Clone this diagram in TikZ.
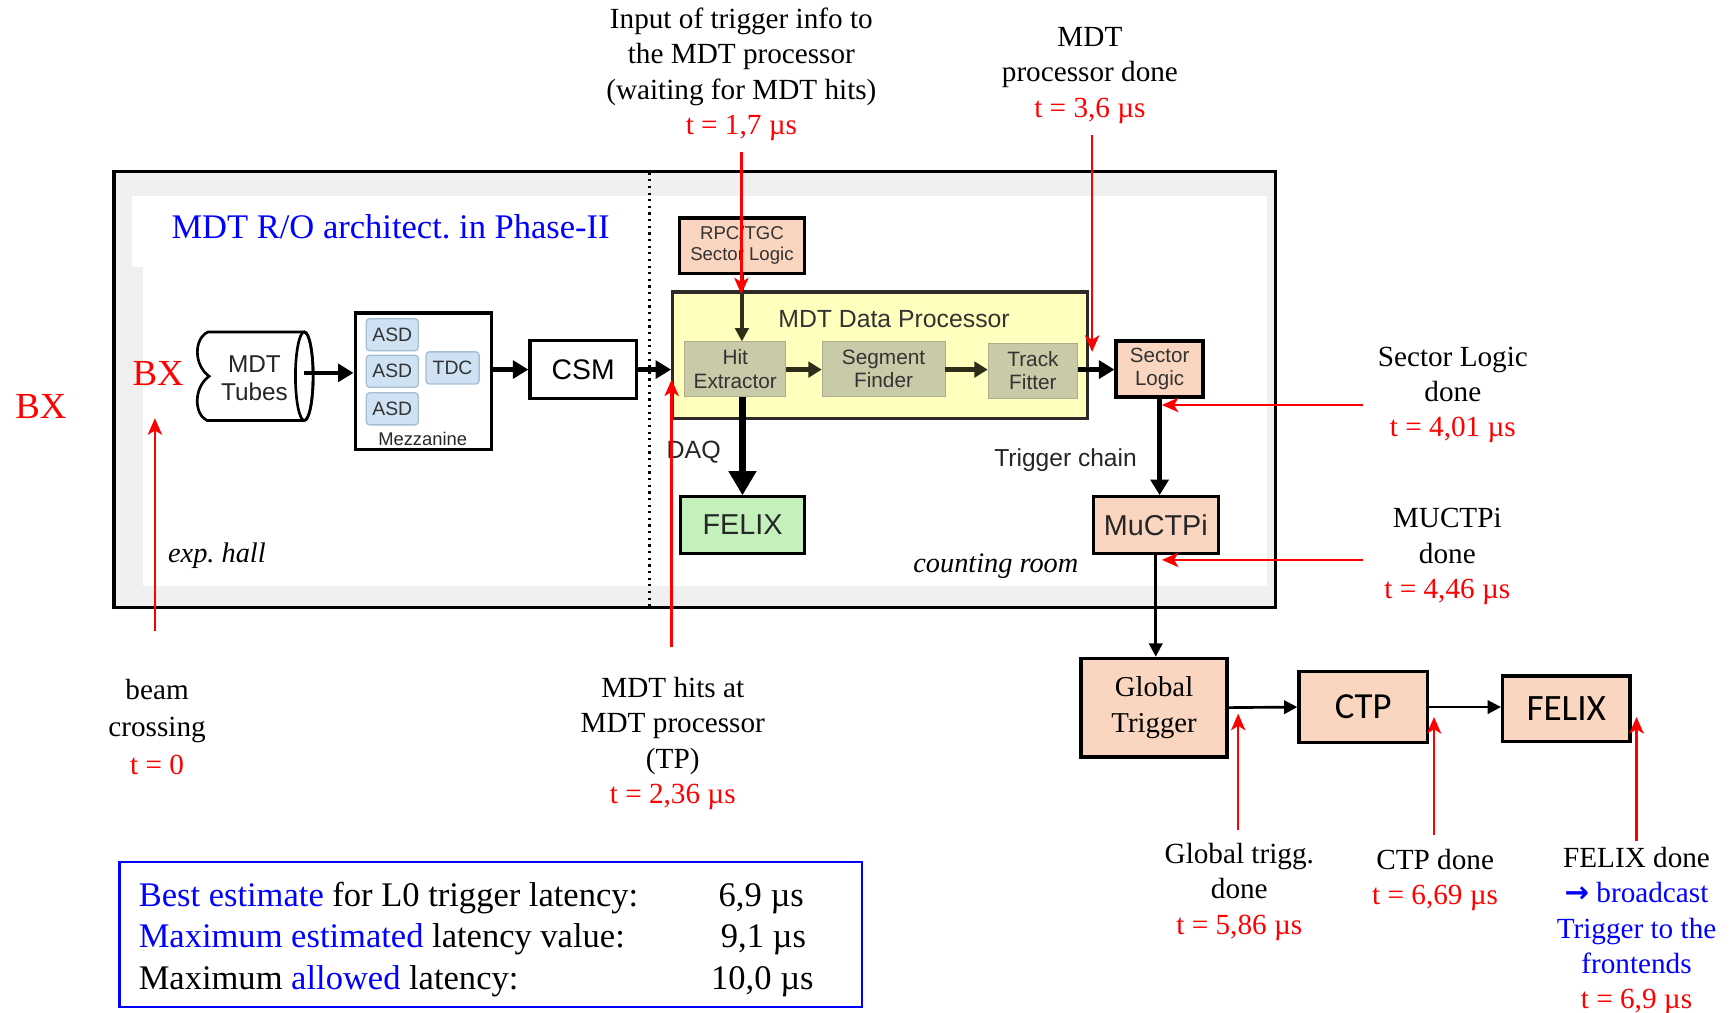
\documentclass[tikz,border=0pt]{standalone}
\usepackage{fontspec}
\setmainfont{Liberation Serif}
\setsansfont{Liberation Sans}
\newfontfamily\calibrifont{Carlito}
\newfontfamily\arrowfont{DejaVu Sans}
\usetikzlibrary{arrows.meta}
\frenchspacing

\definecolor{salmon}{RGB}{250,214,192}
\definecolor{procyellow}{RGB}{255,255,190}
\definecolor{stagegray}{RGB}{201,202,168}
\definecolor{felixgreen}{RGB}{196,240,188}
\definecolor{asdblue}{RGB}{207,226,243}
\definecolor{asdedge}{RGB}{165,190,210}
\definecolor{hallgray}{RGB}{240,240,240}
\definecolor{darkolive}{RGB}{45,45,25}

\newcommand\fs[2]{\fontsize{#1}{#2}\selectfont}

\tikzset{
  blockbox/.style={draw, line width=1.5pt, inner sep=0pt, align=center},
  salmonbox/.style={blockbox, fill=salmon},
  chipbox/.style={draw=asdedge, fill=asdblue, rounded corners=1.5pt, line width=0.6pt,
    inner sep=0pt, minimum width=23.5pt, minimum height=14.5pt,
    font=\sffamily\fs{8.75}{10}, text=black!80},
  stagebox/.style={fill=stagegray, draw=stagegray!85!black, line width=0.4pt, inner sep=0pt,
    align=center, font=\sffamily\fs{9.4}{10.5}, text=black!80},
  note/.style={font=\fs{13.2}{16}, align=center},
  redarrow/.style={red, line width=1.1pt, -{Stealth[length=7.5pt,width=6.5pt,inset=2pt]}},
  thickarrow/.style={line width=2pt, -{Triangle[length=7pt,width=8pt]}},
  stagearrow/.style={darkolive, line width=2pt, -{Triangle[length=6pt,width=7pt]}},
  thinarrow/.style={line width=1.2pt, -{Triangle[length=6pt,width=6pt]}},
}

\begin{document}
\begin{tikzpicture}[x=0.5pt,y=-0.5pt]
\useasboundingbox (0,0) rectangle (1568,915);

% experimental hall / counting room frame
\node[draw, line width=1.5pt, fill=hallgray, minimum width=525pt, minimum height=197pt, inner sep=0pt] (arch) at (628,352) {};
\fill[white] (129,177) rectangle (1145,530);
\fill[white] (119,177) rectangle (129,241);
\draw[dotted, line width=1pt] (587,156) -- (587,548);

\node[font=\fs{15.6}{18}, text=blue] (title) at (353,205) {MDT R/O architect. in Phase-II};

% MDT tubes
\draw[line width=1.2pt, fill=white] (188,300) -- (275,300)
  arc[start angle=90, end angle=-90, x radius=4pt, y radius=20pt] -- (187,380)
  .. controls (175,374) and (175,350) .. (189,340)
  .. controls (175,330) and (175,306) .. (188,300) -- cycle;
\draw[line width=1.2pt] (275,340) ellipse [x radius=4pt, y radius=20pt];
\node[font=\sffamily\fs{11}{12.5}, align=center, text=black!85] (tubes) at (230,342) {MDT\\Tubes};
\coordinate (tubeout) at (275,337);

% mezzanine card
\node[blockbox, fill=white, minimum width=61.5pt, minimum height=61.5pt] (mezz) at (382.5,344.5) {};
\node[chipbox] (asdA) at (354.5,302.5) {ASD};
\node[chipbox] (asdB) at (354.5,335.5) {ASD};
\node[chipbox] (asdC) at (354.5,369.5) {ASD};
\node[chipbox, minimum width=24pt] (tdc) at (409,332.5) {TDC};
\node[font=\sffamily\fs{8.3}{9}, text=black!85] (mezzlabel) at (382,397) {Mezzanine};

% CSM
\node[blockbox, fill=white, minimum width=48pt, minimum height=26pt, font=\sffamily\fs{12.8}{14}] (csm) at (527,334) {CSM};

% MDT data processor
\node[blockbox, fill=procyellow, draw=black!90!olive, minimum width=187.5pt, minimum height=57pt] (proc) at (795.5,321) {};
\node[font=\sffamily\fs{11.2}{13}, text=black!80] (proctitle) at (808,288) {MDT Data Processor};
\node[stagebox, minimum width=45.5pt, minimum height=24.5pt] (hit) at (664.5,333.5) {Hit\\Extractor};
\node[stagebox, minimum width=55.5pt, minimum height=24.5pt] (seg) at (798.5,333.5) {Segment\\Finder};
\node[stagebox, minimum width=40.5pt, minimum height=25pt] (track) at (933.5,335) {Track\\Fitter};

\node[salmonbox, minimum width=56.5pt, minimum height=25pt, font=\sffamily\fs{8.4}{9.5}, text=black!80] (rpc) at (670.5,222) {RPC/TGC\\Sector Logic};
\node[salmonbox, line width=1.8pt, minimum width=39pt, minimum height=25.5pt, font=\sffamily\fs{9.3}{10.3}, text=black!80] (sl) at (1048,333.5) {Sector\\Logic};
\node[salmonbox, minimum width=56.5pt, minimum height=25.5pt, font=\sffamily\fs{13}{14}, text=black!85] (muctpi) at (1044.5,474.5) {MuCTPi};
\node[blockbox, fill=felixgreen, line width=1.3pt, minimum width=56pt, minimum height=25.5pt, font=\sffamily\fs{13}{14}, text=black!85] (felixdaq) at (671,474.5) {FELIX};

% central trigger chain
\node[salmonbox, minimum width=66pt, minimum height=44.5pt, font=\fs{13}{16}] (gt) at (1043,639.5) {Global\\Trigger};
\node[salmonbox, minimum width=58pt, minimum height=32pt, font=\calibrifont\fs{16.6}{18}] (ctp) at (1232,639) {CTP};
\node[salmonbox, minimum width=57.5pt, minimum height=29.5pt, font=\calibrifont\fs{16.8}{18}] (felixout) at (1415.5,640.5) {FELIX};

% data flow
\draw[thickarrow] (tubeout) -- (mezz.west |- tubeout);
\draw[thickarrow] (mezz.east |- csm.west) -- (csm.west);
\draw[thickarrow] (csm.east) -- (proc.west |- csm.east);
\draw[stagearrow] (hit.east |- 0,334) -- (seg.west |- 0,334);
\draw[stagearrow] (seg.east |- 0,334) -- (track.west |- 0,334);
\draw[thickarrow] (track.east |- 0,334) -- (sl.west |- 0,334);
\draw[line width=1.5pt, darkolive, -{Triangle[length=6pt,width=6pt]}] (rpc.south) -- (rpc.south |- hit.north);
\draw[line width=3.5pt, -{Triangle[length=11pt,width=12pt]}] (hit.south -| felixdaq) -- (felixdaq.north);
\draw[thickarrow] (sl.south) -- (sl.south |- muctpi.north);
\draw[thinarrow] (muctpi.south) -- (muctpi.south |- gt.north);
\draw[thinarrow] (gt.east) -- (ctp.west);
\draw[thinarrow] (ctp.east) -- (felixout.west |- ctp.east);

\node[font=\sffamily\fs{11.3}{13}, text=black!85] (daq) at (627,409) {DAQ};
\node[font=\sffamily\fs{11.1}{13}, text=black!85] (trigchain) at (963,416) {Trigger chain};
\node[font=\itshape\fs{12.8}{15}] (hall) at (196,502) {exp. hall};
\node[font=\itshape\fs{12.8}{15}] (room) at (900,512) {counting room};

% bunch crossing marks
\node[text=red, font=\fs{16.6}{18}] (bxin) at (143,338) {BX};
\node[text=red, font=\fs{16.6}{18}] (bxout) at (37,367) {BX};

% timing annotations
\node[note, font=\fs{13.2}{17}] (beam) at (142,657) {beam\\crossing\\\textcolor{red}{t = 0}};
\node[note] (inputlbl) at (670,67) {Input of trigger info to\\the MDT processor\\(waiting for MDT hits)\\\textcolor{red}{t = 1,7 µs}};
\node[note] (procdone) at (985,68) {MDT\\processor done\\\textcolor{red}{t = 3,6 µs}};
\node[note] (hitslbl) at (608,672) {MDT hits at\\MDT processor\\(TP)\\\textcolor{red}{t = 2,36 µs}};
\node[note] (sldone) at (1313,357) {Sector Logic\\done\\\textcolor{red}{t = 4,01 µs}};
\node[note] (mudone) at (1308,503) {MUCTPi\\done\\\textcolor{red}{t = 4,46 µs}};
\node[note] (gtdone) at (1120,806) {Global trigg.\\done\\\textcolor{red}{t = 5,86 µs}};
\node[note] (ctpdone) at (1297,795.5) {CTP done\\\textcolor{red}{t = 6,69 µs}};
\node[note] (felixdone) at (1479,841.5) {FELIX done\\\textcolor{blue}{{\arrowfont\bfseries →} broadcast}\\\textcolor{blue}{Trigger to the}\\\textcolor{blue}{frontends}\\\textcolor{red}{t = 6,9 µs}};

\coordinate (bxfoot) at (140,570);   \coordinate (bxtip) at (140,378);
\coordinate (inpfoot) at (670,137);  \coordinate (inptip) at (670,266);
\coordinate (pdfoot) at (987,122);   \coordinate (pdtip) at (987,318);
\coordinate (hitfoot) at (607,585);  \coordinate (hittip) at (607,343);
\coordinate (slfoot) at (1232,366);  \coordinate (sltip) at (1050,366);
\coordinate (mufoot) at (1232,506);  \coordinate (mutip) at (1050,506);
\coordinate (gtfoot) at (1119,750);  \coordinate (gttip) at (1119,645);
\coordinate (ctpfoot) at (1296,755); \coordinate (ctptip) at (1296,648);
\coordinate (fxfoot) at (1479,760);  \coordinate (fxtip) at (1479,648);

\draw[redarrow] (bxfoot) -- (bxtip);
\draw[redarrow] (inpfoot) -- (inptip);
\draw[redarrow] (pdfoot) -- (pdtip);
\draw[redarrow] (hitfoot) -- (hittip);
\draw[redarrow] (slfoot) -- (sltip);
\draw[redarrow] (mufoot) -- (mutip);
\draw[redarrow] (gtfoot) -- (gttip);
\draw[redarrow] (ctpfoot) -- (ctptip);
\draw[redarrow] (fxfoot) -- (fxtip);

% latency summary
\node[draw=blue, line width=1.25pt, minimum width=335.5pt, minimum height=65.5pt, inner sep=0pt] (sumbox) at (443.5,844.5) {};
\begin{scope}[font=\fs{15.6}{18}]
\node[anchor=base west, inner sep=0pt] (rowA) at (125,819) {\textcolor{blue}{Best estimate} for L0 trigger latency:};
\node[anchor=base west, inner sep=0pt] (rowB) at (125,856.5) {\textcolor{blue}{Maximum estimated} latency value:};
\node[anchor=base west, inner sep=0pt] (rowC) at (125,894) {Maximum \textcolor{blue}{allowed} latency:};
\node[anchor=base, inner sep=0pt] (valA) at (688,819) {6,9 µs};
\node[anchor=base, inner sep=0pt] (valB) at (690,856.5) {9,1 µs};
\node[anchor=base, inner sep=0pt] (valC) at (689,894) {10,0 µs};
\end{scope}
\end{tikzpicture}
\end{document}
